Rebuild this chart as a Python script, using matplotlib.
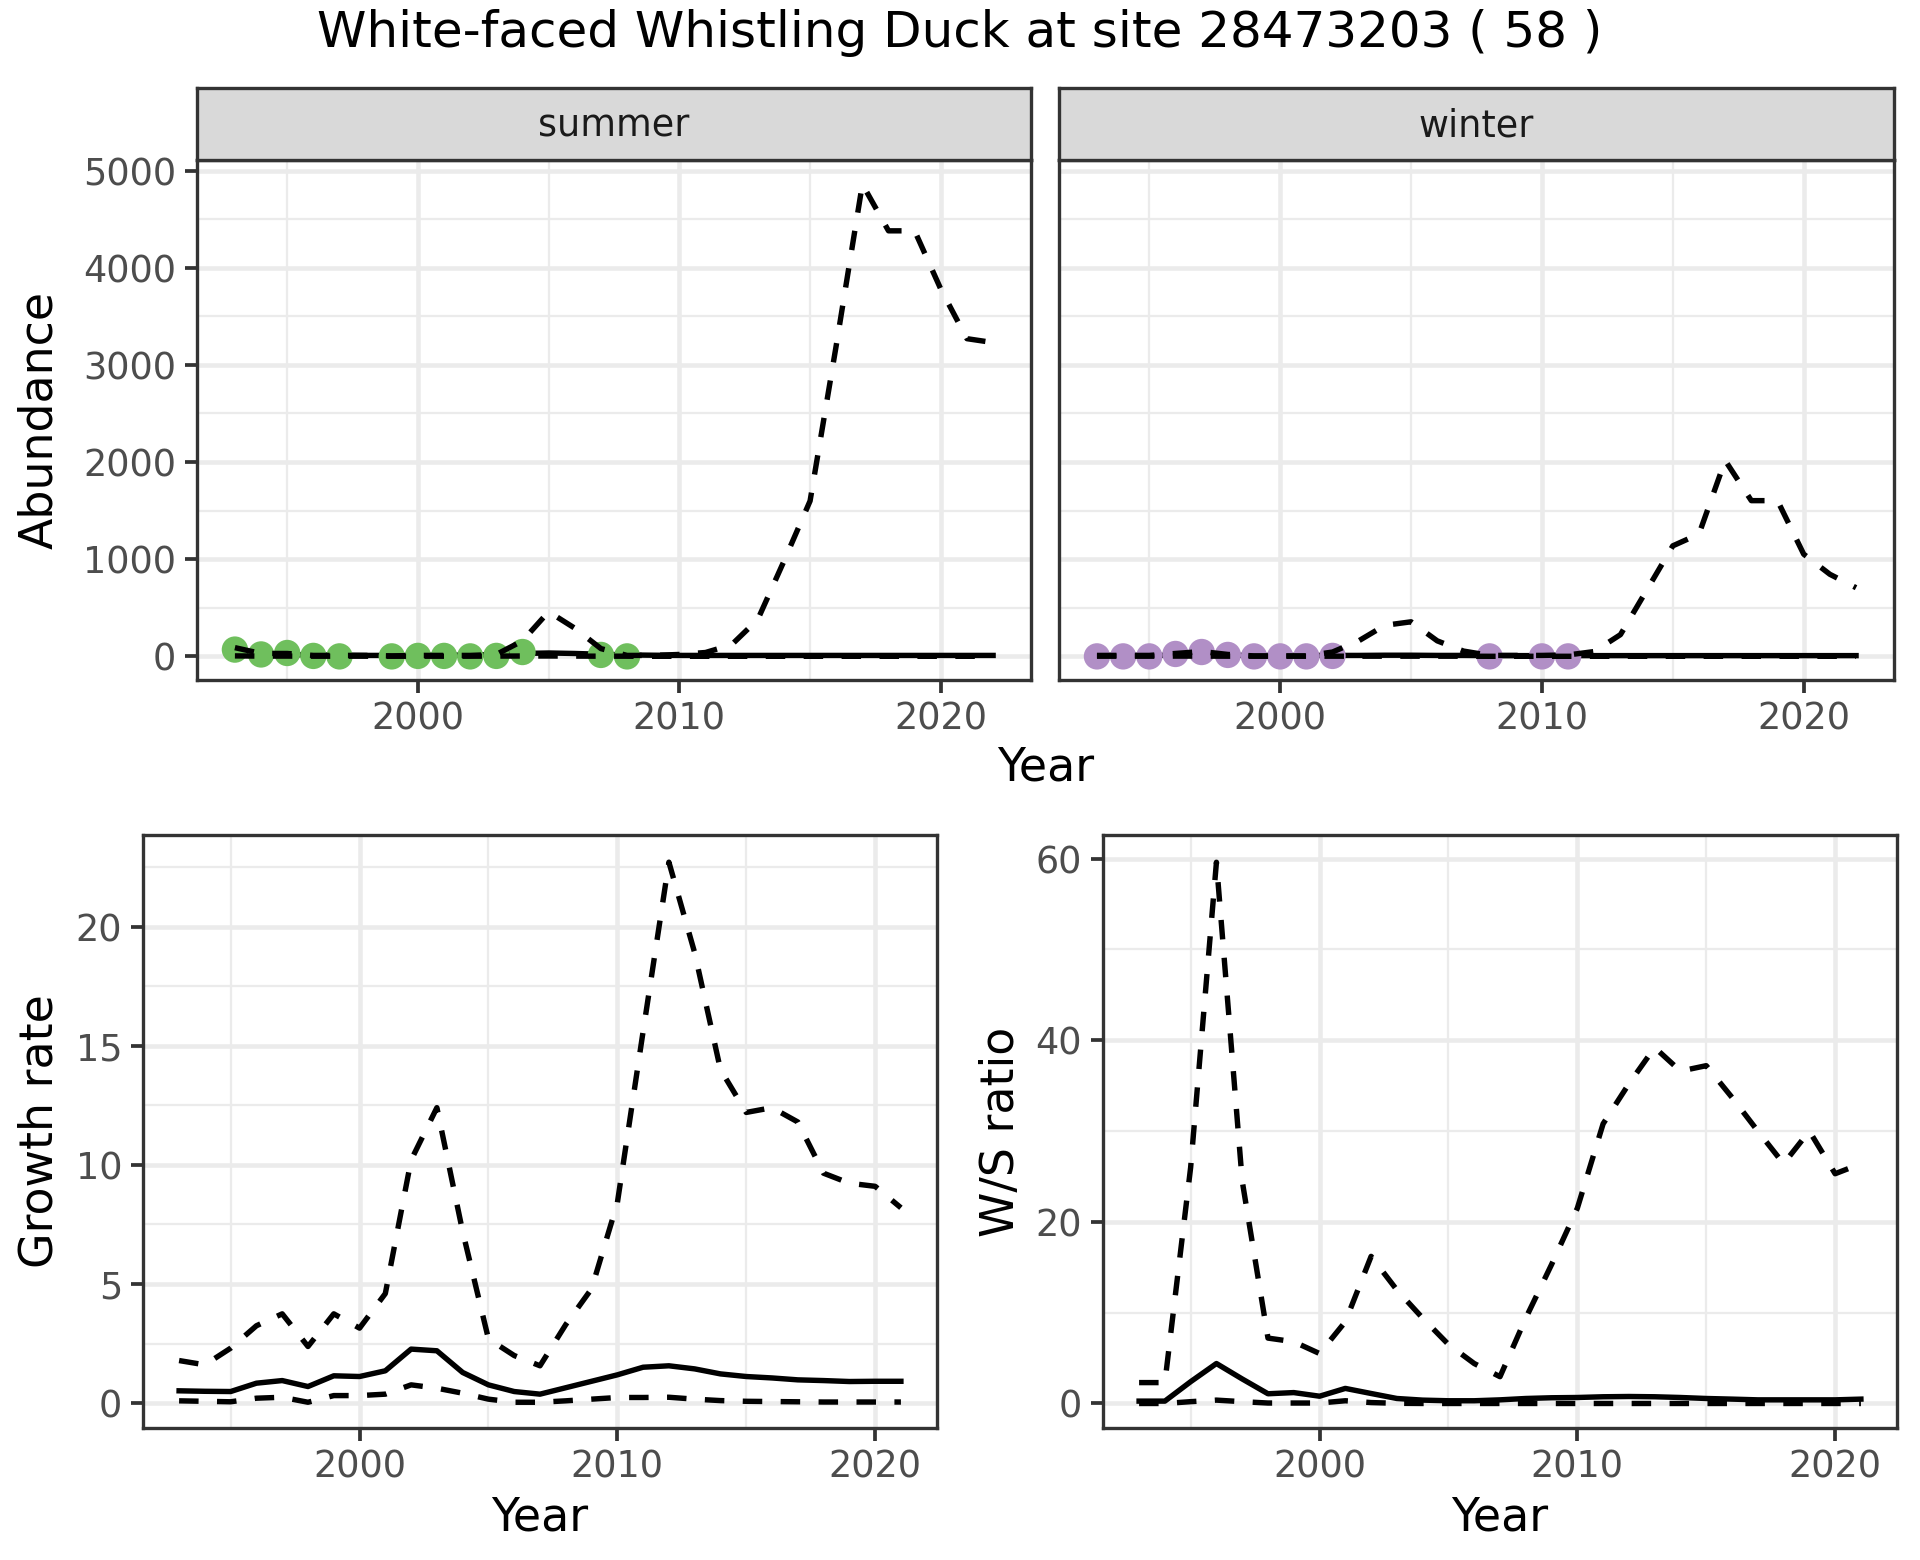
import numpy as np
import matplotlib
matplotlib.use("Agg")
import matplotlib.pyplot as plt
from matplotlib.ticker import MultipleLocator

# ---- data ----
years = list(range(1993, 2023))

summer_obs_years = [1993, 1994, 1995, 1996, 1997, 1999, 2000, 2001, 2002, 2003, 2004, 2007, 2008]
summer_obs = [70, 20, 35, 5, 0, 0, 5, 5, 0, 5, 45, 15, 0]
winter_obs_years = [1993, 1994, 1995, 1996, 1997, 1998, 1999, 2000, 2001, 2002, 2008, 2010, 2011]
winter_obs = [0, 0, 0, 25, 45, 15, 0, 0, 0, 5, 0, 0, 0]

summer_mean = [25, 20, 18, 15, 12, 10, 10, 10, 12, 14, 20, 30, 35, 30, 22,
               15, 12, 10, 10, 10, 10, 10, 10, 10, 10, 10, 10, 10, 10, 10]
summer_lower = [5, 3, 3, 2, 2, 2, 2, 2, 2, 2, 3, 4, 4, 3, 2,
                2, 1, 1, 1, 1, 1, 1, 1, 1, 1, 1, 1, 1, 1, 1]
summer_upper = [90, 30, 30, 10, 10, 10, 5, 10, 10, 10, 20, 160, 460, 290, 80,
                10, 10, 20, 40, 120, 380, 980, 1600, 3200, 4860, 4380, 4380, 3780, 3270, 3230]

winter_mean = [10, 10, 10, 12, 14, 12, 10, 10, 10, 10, 10, 12, 12, 10, 10,
               8, 8, 8, 8, 8, 8, 8, 8, 8, 8, 8, 8, 8, 8, 8]
winter_lower = [2, 2, 2, 3, 3, 2, 2, 2, 2, 2, 2, 2, 2, 2, 2,
                1, 1, 1, 1, 1, 1, 1, 1, 1, 1, 1, 1, 1, 1, 1]
winter_upper = [10, 10, 10, 30, 50, 20, 5, 5, 5, 45, 160, 320, 356, 160, 55,
                10, 10, 10, 15, 50, 224, 680, 1138, 1259, 2017, 1603, 1603, 1052, 845, 707]

years2 = list(range(1993, 2022))
growth_mean = [0.52, 0.50, 0.49, 0.84, 0.95, 0.70, 1.15, 1.12, 1.36, 2.27, 2.20, 1.29, 0.77, 0.49, 0.38,
               0.65, 0.92, 1.19, 1.51, 1.57, 1.44, 1.23, 1.12, 1.06, 0.98, 0.95, 0.91, 0.92, 0.92]
growth_lower = [0.10, 0.08, 0.06, 0.21, 0.25, 0.04, 0.32, 0.32, 0.38, 0.77, 0.63, 0.42, 0.17, 0.04, 0.04,
                0.10, 0.17, 0.24, 0.24, 0.25, 0.17, 0.11, 0.08, 0.07, 0.06, 0.05, 0.05, 0.05, 0.05]
growth_upper = [1.79, 1.61, 2.31, 3.25, 3.75, 2.38, 3.75, 3.15, 4.6, 10.2, 12.4, 7.2, 2.7, 2.0, 1.57,
                3.3, 4.8, 8.4, 15.6, 22.7, 18.9, 14.0, 12.2, 12.4, 11.8, 9.65, 9.23, 9.1, 8.2]

ratio_mean = [0.26, 0.26, 2.4, 4.4, 2.7, 1.07, 1.2, 0.8, 1.66, 1.1, 0.55, 0.37, 0.3, 0.3, 0.4,
              0.55, 0.63, 0.66, 0.74, 0.77, 0.74, 0.66, 0.55, 0.48, 0.4, 0.4, 0.4, 0.4, 0.48]
ratio_lower = [0.0, 0.0, 0.2, 0.37, 0.2, 0.05, 0.05, 0.05, 0.3, 0.1, 0.02, 0.0, 0.0, 0.0, 0.0,
               0.0, 0.0, 0.0, 0.0, 0.0, 0.0, 0.0, 0.0, 0.0, 0.0, 0.0, 0.0, 0.0, 0.0]
ratio_upper = [2.3, 2.3, 26, 59.6, 24.5, 7.2, 6.8, 5.5, 9.0, 16.2, 12.5, 9.4, 6.5, 4.4, 2.95,
               9.4, 15.3, 21.5, 30.8, 35.2, 39.2, 36.6, 37.2, 33.7, 30.0, 26.4, 30.0, 25.3, 26.4]

# ---- style ----
GRID = "#EBEBEB"
DARK = "#333333"
TICKTXT = "#4D4D4D"
GREEN = "#6FBF5D"
PURPLE = "#B18FC6"
LW = 1.3
DASH = (0, (3.6, 3.4))

W, H = 1920, 1560
fig = plt.figure(figsize=(6.4, 5.2), dpi=300)


def box(x0, y0, x1, y1):
    # pixel box (from top-left) -> figure fraction
    return [x0 / W, 1 - y1 / H, (x1 - x0) / W, (y1 - y0) / H]


def style_axes(ax, xmaj, ymaj, show_y=True):
    ax.set_facecolor("white")
    ax.xaxis.set_major_locator(MultipleLocator(xmaj))
    ax.xaxis.set_minor_locator(MultipleLocator(xmaj / 2))
    ax.yaxis.set_major_locator(MultipleLocator(ymaj))
    ax.yaxis.set_minor_locator(MultipleLocator(ymaj / 2))
    ax.grid(True, which="major", color=GRID, lw=1.1, zorder=0)
    ax.grid(True, which="minor", color=GRID, lw=0.55, zorder=0)
    ax.set_axisbelow(True)
    for s in ax.spines.values():
        s.set_color(DARK)
        s.set_linewidth(0.8)
    ax.tick_params(which="major", length=3, width=0.9, color=DARK,
                   labelsize=8.8, labelcolor=TICKTXT, pad=2)
    ax.tick_params(which="minor", length=0)
    if not show_y:
        ax.tick_params(axis="y", which="both", left=False, labelleft=False)


def draw_lines(ax, x, mean, lower, upper):
    ax.plot(x, mean, color="black", lw=LW, zorder=3)
    ax.plot(x, lower, color="black", lw=LW, ls=DASH, zorder=4)
    ax.plot(x, upper, color="black", lw=LW, ls=DASH, zorder=4)


def place_labels(ax, xlab, ylab, ylab_x):
    ax.set_xlabel(xlab, fontsize=11, va="center")
    ax.set_ylabel(ylab, fontsize=11, va="center")
    ax.xaxis.set_label_coords(0.5, (1428 - 1518) / 593)
    ax.yaxis.set_label_coords(ylab_x, 0.5)


# top facets
ax1 = fig.add_axes(box(197, 160, 1031, 680))
ax2 = fig.add_axes(box(1059, 160, 1894, 680), sharey=ax1)

for ax, mean, lower, upper, oy, ov, col in [
    (ax1, summer_mean, summer_lower, summer_upper, summer_obs_years, summer_obs, GREEN),
    (ax2, winter_mean, winter_lower, winter_upper, winter_obs_years, winter_obs, PURPLE),
]:
    draw_lines(ax, years, mean, lower, upper)
    ax.scatter(oy, ov, s=40, color=col, edgecolors="none", zorder=3.5)
    ax.set_xlim(1991.55, 2023.45)

ax1.set_ylim(-243, 5109)
style_axes(ax1, 10, 1000)
style_axes(ax2, 10, 1000, show_y=False)

for (x0, x1), label in [((197, 1031), "summer"), ((1059, 1894), "winter")]:
    sax = fig.add_axes(box(x0, 88, x1, 160))
    sax.set_facecolor("#D9D9D9")
    sax.set_xticks([])
    sax.set_yticks([])
    for s in sax.spines.values():
        s.set_color(DARK)
        s.set_linewidth(0.8)
    sax.text(0.5, 0.47, label, ha="center", va="center", fontsize=8.8,
             color="#1A1A1A", transform=sax.transAxes)

fig.text(1045.5 / W, 1 - 768 / H, "Year", ha="center", va="center", fontsize=11)
fig.text(40 / W, 1 - 420 / H, "Abundance", ha="center", va="center",
         rotation=90, fontsize=11)

# bottom panels
ax3 = fig.add_axes(box(143, 835, 937, 1428))
draw_lines(ax3, years2, growth_mean, growth_lower, growth_upper)
ax3.set_xlim(1991.6, 2022.4)
style_axes(ax3, 10, 5)
ax3.set_ylim(-1.04, 23.84)
place_labels(ax3, "Year", "Growth rate", (40 - 143) / 794)

ax4 = fig.add_axes(box(1103, 835, 1897, 1428))
draw_lines(ax4, years2, ratio_mean, ratio_lower, ratio_upper)
ax4.set_xlim(1991.6, 2022.4)
style_axes(ax4, 10, 20)
ax4.set_ylim(-2.7, 62.6)
place_labels(ax4, "Year", "W/S ratio", (1002 - 1103) / 794)

fig.text(960 / W, 1 - 33 / H, "White-faced Whistling Duck at site 28473203 ( 58 )",
         ha="center", va="center", fontsize=12)

fig.savefig("out.png", dpi=300, facecolor="white")
